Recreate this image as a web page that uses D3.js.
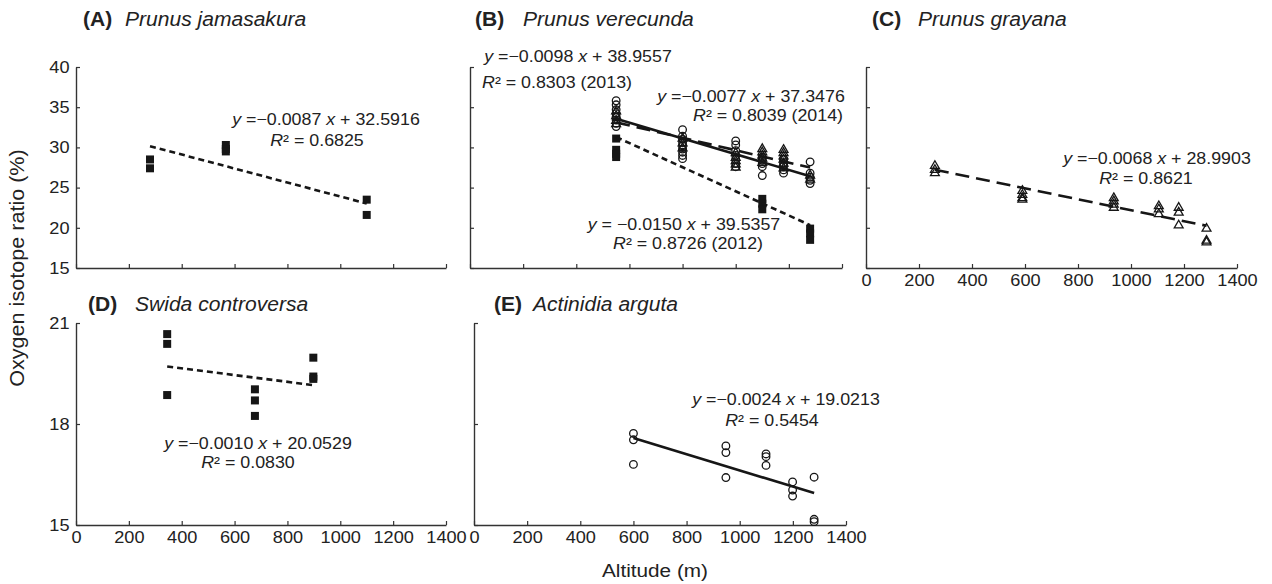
<!DOCTYPE html>
<html><head><meta charset="utf-8">
<script src="https://cdn.jsdelivr.net/npm/d3@7"></script>
<style>body{margin:0;background:#fff}text{font-family:"Liberation Sans",Arial,sans-serif;fill:#222}</style>
</head><body><svg id="c" width="1272" height="584"></svg>
<script>
// ---------- DATA ----------
const xTicks = [0, 200, 400, 600, 800, 1000, 1200, 1400];
const yTicksTop = [15, 20, 25, 30, 35, 40];
const yTicksBottom = [15, 18, 21];

// (A) Prunus jamasakura
const jamAlt = [280, 280, 567, 567, 567, 1100, 1100];
const jamVal = [28.5, 27.4, 30.3, 29.8, 29.5, 23.5, 21.6];
const jamFit = [-0.0087, 32.5916]; const jamRange = [280, 1100];

// (B) Prunus verecunda
const ver2012Alt = [550, 550, 550, 550, 1100, 1100, 1100, 1280, 1280, 1280];
const ver2012Val = [31.1, 29.7, 29.2, 28.8, 23.6, 23.0, 22.3, 19.9, 19.3, 18.5];
const ver2013Alt = [550,550,550,550,550,550,550,550, 800,800,800,800,800,800,800,800,800,
  1000,1000,1000,1000,1000,1000,1000, 1100,1100,1100,1100,1100, 1180,1180,1180,1180,1180,
  1280,1280,1280,1280,1280];
const ver2013Val = [35.8,35.3,34.7,34.2,33.8,33.4,33.0,32.6, 32.2,31.4,31.0,30.6,30.2,29.8,29.4,29.0,28.6,
  30.8,30.3,29.6,29.0,28.5,28.0,27.6, 28.8,28.4,28.0,27.6,26.5, 28.5,28.0,27.6,27.2,26.8,
  28.2,26.8,26.3,25.9,25.5];
const ver2014Alt = [550,550,550,550, 800,800,800, 1000,1000,1000,1000,1000, 1100,1100,1100,1100,1100,
  1180,1180,1180,1180,1180,1180, 1280,1280];
const ver2014Val = [34.6,34.0,33.4,33.0, 31.2,30.6,30.0, 29.4,28.8,28.4,28.0,27.6, 29.9,29.5,29.1,28.7,28.2,
  29.8,29.4,29.0,28.6,28.1,27.5, 26.6,26.1];
const ver2012Fit = [-0.0150, 39.5357];
const ver2013Fit = [-0.0098, 38.9557];
const ver2014Fit = [-0.0077, 37.3476];
const verRange = [550, 1280];

// (C) Prunus grayana
const grayAlt = [260,260,260, 590,590,590,590, 935,935,935,935, 1105,1105,1105, 1180,1180,1180, 1285,1285,1285];
const grayVal = [27.8,27.3,26.9, 24.7,24.2,23.8,23.6, 23.8,23.4,23.0,22.6, 22.8,22.4,21.8, 22.6,22.0,20.4, 20.0,18.5,18.3];
const grayFit = [-0.0068, 28.9903]; const grayRange = [260, 1285];

// (D) Swida controversa
const swiAlt = [345, 345, 345, 677, 677, 677, 898, 898, 898];
const swiVal = [20.67, 20.38, 18.86, 19.03, 18.70, 18.24, 19.97, 19.41, 19.34];
const swiFit = [-0.0010, 20.0529]; const swiRange = [345, 898];

// (E) Actinidia arguta
const actAlt = [600, 600, 600, 948, 948, 948, 1099, 1099, 1099, 1199, 1199, 1199, 1280, 1280, 1280];
const actVal = [17.72, 17.53, 16.80, 17.35, 17.15, 16.41, 17.11, 17.03, 16.77, 16.28, 16.04, 15.86, 16.42, 15.17, 15.10];
const actFit = [-0.0024, 19.0213]; const actRange = [600, 1280];

// ---------- DRAW ----------
const SX = 1.08;
const INK = "#161616";
const svg = d3.select("#c");

function label(x, y, segs, size, anchor = "start", rot = 0) {
  const t = svg.append("text")
    .attr("transform", `translate(${x},${y})${rot ? ` rotate(${rot})` : ""} scale(${SX},1)`)
    .attr("font-size", size).attr("text-anchor", anchor);
  segs.forEach(s => {
    const ts = t.append("tspan").text(s.t);
    if (s.i) ts.attr("font-style", "italic");
    if (s.b) ts.attr("font-weight", "bold");
  });
  return t;
}
function eqSegs(str) {
  const parts = str.split(/(\by\b|\bx\b)/).filter(p => p !== "");
  return parts.map(p => ({ t: p, i: (p === "y" || p === "x") }));
}
function r2Segs(str) { return [{ t: "R", i: 1 }, { t: "² = " + str }]; }

function panel(cfg) {
  const x = d3.scaleLinear().domain([0, 1400]).range([cfg.x0, cfg.x1]);
  const y = d3.scaleLinear().domain(cfg.yDomain).range([cfg.yb, cfg.yt]);
  const g = svg.append("g");
  const xa = d3.axisBottom(x).tickValues(xTicks).tickSizeInner(-4).tickSizeOuter(0).tickPadding(6)
    .tickFormat(cfg.xLabels ? d3.format("d") : "");
  const ya = d3.axisLeft(y).tickValues(cfg.yTicks).tickSizeInner(-4).tickSizeOuter(0).tickPadding(6)
    .tickFormat(cfg.yLabels ? d3.format("d") : "");
  [[xa, `translate(0,${cfg.yb})`], [ya, `translate(${cfg.x0},0)`]].forEach(([a, tr]) => {
    const ag = g.append("g").attr("transform", tr).call(a);
    ag.select(".domain").attr("stroke", "#333").attr("stroke-width", 1.4);
    ag.selectAll(".tick line").attr("stroke", "#333").attr("stroke-width", 1.2);
    ag.selectAll(".tick text").attr("font-size", 16.8).attr("fill", "#222")
      .attr("font-family", '"Liberation Sans",Arial,sans-serif')
      .attr("transform", `scale(${SX},1)`);
  });
  return { x, y, g };
}

function squares(p, alt, val) {
  p.g.append("g").selectAll("rect").data(d3.zip(alt, val)).join("rect")
    .attr("x", d => p.x(d[0]) - 4).attr("y", d => p.y(d[1]) - 4)
    .attr("width", 8).attr("height", 8).attr("fill", INK);
}
function circles(p, alt, val) {
  p.g.append("g").selectAll("circle").data(d3.zip(alt, val)).join("circle")
    .attr("cx", d => p.x(d[0])).attr("cy", d => p.y(d[1])).attr("r", 3.8)
    .attr("fill", "none").attr("stroke", INK).attr("stroke-width", 1.3);
}
function triangles(p, alt, val) {
  const sym = d3.symbol(d3.symbolTriangle, 34);
  p.g.append("g").selectAll("path").data(d3.zip(alt, val)).join("path")
    .attr("d", sym).attr("transform", d => `translate(${p.x(d[0])},${p.y(d[1]) + 0.8})`)
    .attr("fill", "none").attr("stroke", INK).attr("stroke-width", 1.3);
}
function fitLine(p, fit, range, dash) {
  const pts = range.map(a => [a, fit[0] * a + fit[1]]);
  p.g.append("path").attr("d", d3.line().x(d => p.x(d[0])).y(d => p.y(d[1]))(pts))
    .attr("fill", "none").attr("stroke", INK).attr("stroke-width", 2.6)
    .attr("stroke-dasharray", dash);
}

const rowTop = { yDomain: [15, 40], yb: 268, yt: 67, yTicks: yTicksTop };
const rowBot = { yDomain: [15, 21], yb: 525, yt: 323, yTicks: yTicksBottom };

const pA = panel({ ...rowTop, x0: 76, x1: 446, xLabels: false, yLabels: true });
squares(pA, jamAlt, jamVal);
fitLine(pA, jamFit, jamRange, "6,4");

const pB = panel({ ...rowTop, x0: 470, x1: 842, xLabels: false, yLabels: false });
squares(pB, ver2012Alt, ver2012Val);
circles(pB, ver2013Alt, ver2013Val);
triangles(pB, ver2014Alt, ver2014Val);
fitLine(pB, ver2012Fit, verRange, "6,4");
fitLine(pB, ver2014Fit, verRange, "14,7");
fitLine(pB, ver2013Fit, verRange, null);

const pC = panel({ ...rowTop, x0: 866, x1: 1237, xLabels: true, yLabels: false });
triangles(pC, grayAlt, grayVal);
fitLine(pC, grayFit, grayRange, "14,7");

const pD = panel({ ...rowBot, x0: 76, x1: 446, xLabels: true, yLabels: true });
squares(pD, swiAlt, swiVal);
fitLine(pD, swiFit, swiRange, "6,4");

const pE = panel({ ...rowBot, x0: 474, x1: 846, xLabels: true, yLabels: false });
circles(pE, actAlt, actVal);
fitLine(pE, actFit, actRange, null);

// titles
const TS = 19.5;
label(83, 26, [{ t: "(A)", b: 1 }], TS); label(125, 26, [{ t: "Prunus jamasakura", i: 1 }], TS);
label(475, 26, [{ t: "(B)", b: 1 }], TS); label(523, 26, [{ t: "Prunus verecunda", i: 1 }], TS);
label(872, 26, [{ t: "(C)", b: 1 }], TS); label(918, 26, [{ t: "Prunus grayana", i: 1 }], TS);
label(88, 311, [{ t: "(D)", b: 1 }], TS); label(135, 311, [{ t: "Swida controversa", i: 1 }], TS);
label(494, 311, [{ t: "(E)", b: 1 }], TS); label(533, 311, [{ t: "Actinidia arguta", i: 1 }], TS);

// equations
const ES = 16.5;
label(326, 125, eqSegs("y =−0.0087 x + 32.5916"), ES, "middle");
label(317, 146, r2Segs("0.6825"), ES, "middle");
label(578, 62, eqSegs("y =−0.0098 x + 38.9557"), ES, "middle");
label(557, 88, r2Segs("0.8303 (2013)"), ES, "middle");
label(751, 102, eqSegs("y =−0.0077 x + 37.3476"), ES, "middle");
label(768, 121, r2Segs("0.8039 (2014)"), ES, "middle");
label(684, 230, eqSegs("y = −0.0150 x + 39.5357"), ES, "middle");
label(688, 249, r2Segs("0.8726 (2012)"), ES, "middle");
label(1157, 164, eqSegs("y =−0.0068 x + 28.9903"), ES, "middle");
label(1146, 184, r2Segs("0.8621"), ES, "middle");
label(258, 449, eqSegs("y =−0.0010 x + 20.0529"), ES, "middle");
label(248, 468, r2Segs("0.0830"), ES, "middle");
label(786, 405, eqSegs("y =−0.0024 x + 19.0213"), ES, "middle");
label(772, 426, r2Segs("0.5454"), ES, "middle");

// axis titles
label(655, 577, [{ t: "Altitude (m)" }], 19.2, "middle");
label(24, 268, [{ t: "Oxygen isotope ratio (%)" }], 20, "middle", -90);
</script></body></html>
